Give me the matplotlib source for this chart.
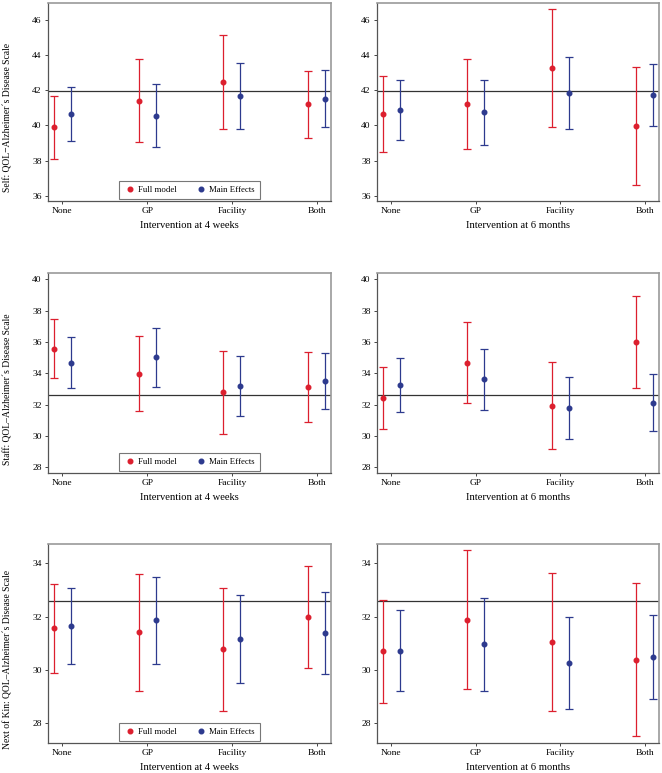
import matplotlib
matplotlib.use('Agg')
import matplotlib.pyplot as plt
import numpy as np

plt.rcParams['font.family'] = ['Liberation Serif', 'DejaVu Serif']

cats = ['None', 'GP', 'Facility', 'Both']
xlabels = ['Intervention at 4 weeks', 'Intervention at 6 months']
ylabels = ['Self: QOL\u2212Alzheimer\u00b4s Disease Scale',
           'Staff: QOL\u2013Alzheimer\u00b4s Disease Scale',
           'Next of Kin: QOL\u2013Alzheimer\u00b4s Disease Scale']

# Self
self_4w_full = [39.88, 41.41, 42.46, 41.20]
self_4w_full_lo = [38.07, 39.05, 39.80, 39.30]
self_4w_full_hi = [41.69, 43.76, 45.13, 43.11]
self_4w_main = [40.65, 40.54, 41.65, 41.52]
self_4w_main_lo = [39.09, 38.77, 39.78, 39.89]
self_4w_main_hi = [42.20, 42.32, 43.53, 43.13]
self_6m_full = [40.67, 41.20, 43.26, 39.95]
self_6m_full_lo = [38.50, 38.64, 39.89, 36.59]
self_6m_full_hi = [42.83, 43.76, 46.63, 43.31]
self_6m_main = [40.86, 40.73, 41.84, 41.71]
self_6m_main_lo = [39.15, 38.88, 39.81, 39.97]
self_6m_main_hi = [42.57, 42.58, 43.87, 43.46]

# Staff
staff_4w_full = [35.57, 33.98, 32.78, 33.10]
staff_4w_full_lo = [33.67, 31.58, 30.13, 30.85]
staff_4w_full_hi = [37.46, 36.38, 35.44, 35.35]
staff_4w_main = [34.68, 35.01, 33.18, 33.50]
staff_4w_main_lo = [33.03, 33.13, 31.24, 31.71]
staff_4w_main_hi = [36.33, 36.89, 35.12, 35.29]
staff_6m_full = [32.40, 34.67, 31.91, 35.98]
staff_6m_full_lo = [30.43, 32.09, 29.13, 33.03]
staff_6m_full_hi = [34.37, 37.25, 34.69, 38.93]
staff_6m_main = [33.26, 33.61, 31.77, 32.10]
staff_6m_main_lo = [31.54, 31.66, 29.79, 30.28]
staff_6m_main_hi = [34.99, 35.57, 33.75, 33.92]

# Next of kin
kin_4w_full = [31.56, 31.41, 30.76, 32.00]
kin_4w_full_lo = [29.88, 29.21, 28.45, 30.08]
kin_4w_full_hi = [33.24, 33.61, 33.06, 33.92]
kin_4w_main = [31.64, 31.86, 31.16, 31.38]
kin_4w_main_lo = [30.23, 30.23, 29.49, 29.85]
kin_4w_main_hi = [33.06, 33.50, 32.82, 32.91]
kin_6m_full = [30.69, 31.88, 31.04, 30.37]
kin_6m_full_lo = [28.76, 29.26, 28.45, 27.50]
kin_6m_full_hi = [32.61, 34.50, 33.64, 33.25]
kin_6m_main = [30.72, 30.95, 30.25, 30.47]
kin_6m_main_lo = [29.19, 29.20, 28.51, 28.88]
kin_6m_main_hi = [32.25, 32.70, 32.00, 32.06]

ref_lines = [41.95, 32.6, 32.6]
ylims = [(35.7, 46.95), (27.62, 40.41), (27.24, 34.73)]
yticks = [[36, 38, 40, 42, 44, 46], [28, 30, 32, 34, 36, 38, 40], [28, 30, 32, 34]]

panels = [
    [(self_4w_full, self_4w_full_lo, self_4w_full_hi, self_4w_main, self_4w_main_lo, self_4w_main_hi),
     (self_6m_full, self_6m_full_lo, self_6m_full_hi, self_6m_main, self_6m_main_lo, self_6m_main_hi)],
    [(staff_4w_full, staff_4w_full_lo, staff_4w_full_hi, staff_4w_main, staff_4w_main_lo, staff_4w_main_hi),
     (staff_6m_full, staff_6m_full_lo, staff_6m_full_hi, staff_6m_main, staff_6m_main_lo, staff_6m_main_hi)],
    [(kin_4w_full, kin_4w_full_lo, kin_4w_full_hi, kin_4w_main, kin_4w_main_lo, kin_4w_main_hi),
     (kin_6m_full, kin_6m_full_lo, kin_6m_full_hi, kin_6m_main, kin_6m_main_lo, kin_6m_main_hi)],
]

red = '#dc1f2e'
blue = '#2d3a8e'

W, H = 662, 773
fig = plt.figure(figsize=(W / 100, H / 100), dpi=100)

rows_px = [(3, 201), (273, 473), (544, 743)]
cols_px = [(48, 331), (377, 659)]

x = np.arange(1, 5)
for r in range(3):
    for c in range(2):
        t, b = rows_px[r]
        l, rr = cols_px[c]
        ax = fig.add_axes([l / W, 1 - b / H, (rr - l) / W, (b - t) / H])
        full, flo, fhi, main, mlo, mhi = panels[r][c]
        full = np.array(full); flo = np.array(flo); fhi = np.array(fhi)
        main = np.array(main); mlo = np.array(mlo); mhi = np.array(mhi)
        ax.axhline(ref_lines[r], color='#333333', lw=0.9, zorder=1)
        ax.errorbar(x - 0.1, full, yerr=[full - flo, fhi - full], fmt='o', color=red,
                    ms=3.3, elinewidth=0.9, capsize=3.2, capthick=0.9, label='Full model', zorder=3)
        ax.errorbar(x + 0.1, main, yerr=[main - mlo, mhi - main], fmt='o', color=blue,
                    ms=3.3, elinewidth=0.9, capsize=3.2, capthick=0.9, label='Main Effects', zorder=3)
        ax.set_xlim(0.83, 4.17)
        ax.set_ylim(*ylims[r])
        ax.set_xticks(x)
        ax.set_xticklabels(cats)
        ax.set_yticks(yticks[r])
        ax.tick_params(labelsize=6.8, length=2.5, width=0.7, color='#444444', pad=2)
        for s in ['top', 'right']:
            ax.spines[s].set_color('#9a9a9a')
            ax.spines[s].set_linewidth(1.2)
        for s in ['left', 'bottom']:
            ax.spines[s].set_color('#555555')
            ax.spines[s].set_linewidth(0.9)
        ax.set_xlabel(xlabels[c], fontsize=7.6, labelpad=4)
        if c == 0:
            ax.set_ylabel(ylabels[r], fontsize=6.9)
            ax.yaxis.set_label_coords(-0.125, 0.42)
            handles, labels = ax.get_legend_handles_labels()
            handles = [h[0] for h in handles]
            leg = ax.legend(handles, labels, loc='lower center', ncol=2, fontsize=6.3,
                            frameon=True, fancybox=False, borderaxespad=0.2,
                            handletextpad=0.2, columnspacing=2.2, handlelength=1.3,
                            borderpad=0.6)
            leg.get_frame().set_edgecolor('#555555')
            leg.get_frame().set_linewidth(0.8)

fig.savefig('out.png', dpi=100)
